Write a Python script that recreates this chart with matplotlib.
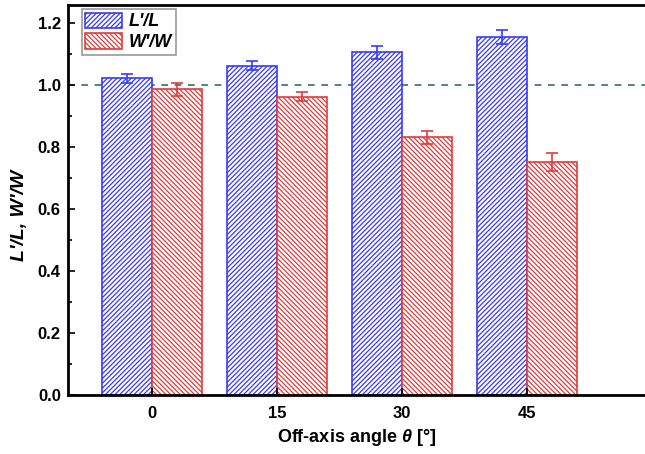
import matplotlib.pyplot as plt
import numpy as np

plt.rcParams['font.family'] = ['Liberation Sans', 'DejaVu Sans']
plt.rcParams['font.weight'] = 'bold'
plt.rcParams['hatch.linewidth'] = 0.9
plt.rcParams['mathtext.fontset'] = 'custom'
plt.rcParams['mathtext.it'] = 'Liberation Sans:italic'
plt.rcParams['mathtext.rm'] = 'Liberation Sans:bold'

# Data
angles = ['0', '15', '30', '45']
l_ratio = [1.022, 1.062, 1.105, 1.155]
l_err = [0.015, 0.014, 0.020, 0.022]
w_ratio = [0.986, 0.962, 0.831, 0.751]
w_err = [0.020, 0.015, 0.022, 0.028]

x = np.arange(len(angles))
width = 0.4

fig = plt.figure(figsize=(6.45, 4.54), dpi=100)
ax = fig.add_axes([0.105, 0.130, 0.895, 0.859])

ax.bar(x - width / 2, l_ratio, width, color='white', edgecolor='#3a3af5',
       hatch='///////', linewidth=1.2, label="L'/L",
       yerr=l_err, error_kw=dict(ecolor='#3a3af5', capsize=4, elinewidth=1.2, capthick=1.2))
ax.bar(x + width / 2, w_ratio, width, color='white', edgecolor='#e03c3c',
       hatch='\\\\\\\\\\\\\\', linewidth=1.2, label="W'/W",
       yerr=w_err, error_kw=dict(ecolor='#e03c3c', capsize=4, elinewidth=1.2, capthick=1.2))

ax.axhline(1.0, color='#2f7070', linestyle=(0, (4, 4)), linewidth=1.2, zorder=0)

ax.set_xlim(-0.672, 3.944)
ax.set_ylim(0, 1.258)
ax.set_xticks(x)
ax.set_xticklabels(angles)
ax.set_yticks(np.arange(0, 1.21, 0.2))
ax.set_yticklabels(['%.1f' % v for v in np.arange(0, 1.21, 0.2)])
ax.set_yticks(np.arange(0.1, 1.21, 0.2), minor=True)
ax.tick_params(axis='both', which='both', direction='in', labelsize=12, width=1.2)
ax.tick_params(axis='both', which='major', length=5, pad=5)
ax.tick_params(axis='y', which='minor', length=3)
ax.tick_params(axis='x', pad=8)

for s in ['left', 'top', 'bottom']:
    ax.spines[s].set_linewidth(2)
ax.spines['right'].set_visible(False)

ax.set_xlabel(r'Off-axis angle $\mathit{\theta}$ [°]', fontsize=13, fontweight='bold')
ax.set_ylabel("L'/L, W'/W", fontsize=14, fontweight='bold', style='italic')
ax.yaxis.set_label_coords(-0.068, 0.46)

leg = ax.legend(loc='upper left', bbox_to_anchor=(0.0243, 0.99), borderaxespad=0,
                fontsize=13, frameon=True, fancybox=False, edgecolor='gray',
                handlelength=2.05, handleheight=0.95, handletextpad=0.35,
                borderpad=0.2, labelspacing=0.15)
leg.get_frame().set_linewidth(1.2)
for t in leg.get_texts():
    t.set_style('italic')

fig.savefig('out.png', dpi=100)
